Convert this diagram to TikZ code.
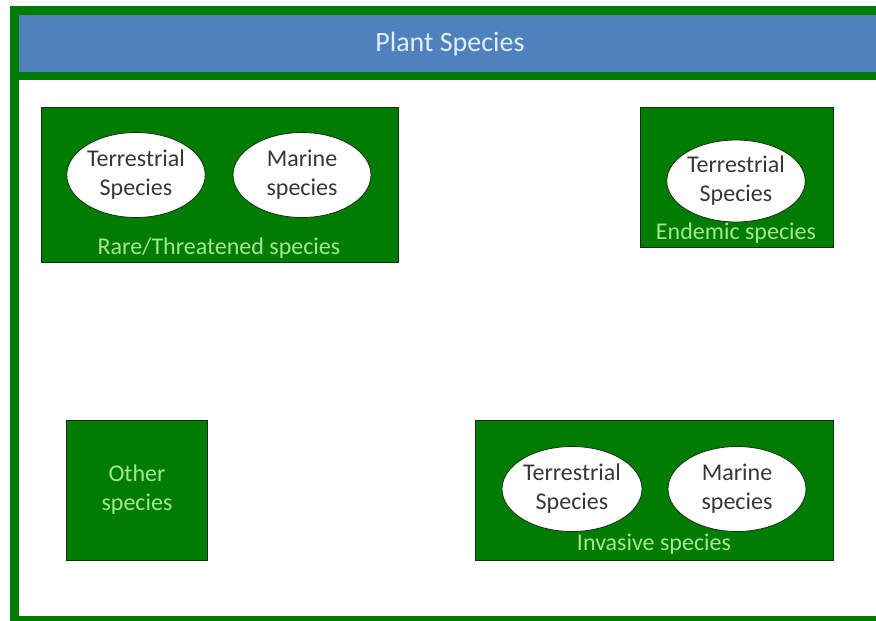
\documentclass[tikz,border=0pt]{standalone}
\usepackage{fontspec}
\setmainfont{Carlito}
\usetikzlibrary{shapes.geometric}
\definecolor{frameg}{RGB}{0,125,0}
\definecolor{boxg}{RGB}{0,125,0}
\definecolor{hdrblue}{RGB}{79,129,189}
\definecolor{lbl}{RGB}{165,230,150}
\definecolor{hdrtxt}{RGB}{225,238,250}
\definecolor{edge}{RGB}{20,45,20}
\definecolor{ovaltxt}{RGB}{55,55,55}
\begin{document}
\begin{tikzpicture}[x=1pt,y=-1pt,
  groupbox/.style={draw=edge, line width=0.8pt, fill=boxg, inner sep=0pt, anchor=north west},
  oval/.style={ellipse, draw=edge, line width=0.8pt, fill=white, inner sep=0pt,
    minimum width=138pt, minimum height=85pt, text=ovaltxt, align=center,
    font=\fontsize{24}{29}\selectfont},
  grouplabel/.style={text=lbl, font=\fontsize{24}{29}\selectfont, inner sep=0pt, anchor=base}
]
\useasboundingbox (0,0) rectangle (876,621);
\clip (0,0) rectangle (876,621);
% outer frame
\draw[frameg, line width=9pt] (14.5,10.5) rectangle (890,620.5);
% header
\node[fill=hdrblue, inner sep=0pt, anchor=north west, minimum width=870pt, minimum height=57pt] (hdr) at (19,15) {};
\fill[frameg] (19,72) rectangle (890,80);
\node[text=hdrtxt, font=\fontsize{28}{33}\selectfont, inner sep=0pt, anchor=base] (title) at (450,51) {Plant Species};

% Rare/Threatened
\node[groupbox, minimum width=357pt, minimum height=155pt] (rare) at (41,107) {};
\node[oval] (rareT) at (136,175) {Terrestrial\\Species};
\node[oval] (rareM) at (302,175) {Marine\\species};
\node[grouplabel] (rareL) at (219,254) {Rare/Threatened species};

% Endemic
\node[groupbox, minimum width=193pt, minimum height=140pt] (end) at (640,107) {};
\node[oval, minimum width=134pt, minimum height=82pt] (endT) at (736,181) {Terrestrial\\Species};
\node[grouplabel] (endL) at (736,239) {Endemic species};

% Other
\node[groupbox, minimum width=141pt, minimum height=140pt] (oth) at (66,420) {};
\node[text=lbl, align=center, font=\fontsize{24}{29}\selectfont, inner sep=0pt] (othL) at (137,490) {Other\\species};

% Invasive
\node[groupbox, minimum width=358pt, minimum height=140pt] (inv) at (475,420) {};
\node[oval, minimum width=140pt] (invT) at (572,489) {Terrestrial\\Species};
\node[oval] (invM) at (737,489) {Marine\\species};
\node[grouplabel] (invL) at (654,550) {Invasive species};
\end{tikzpicture}
\end{document}
